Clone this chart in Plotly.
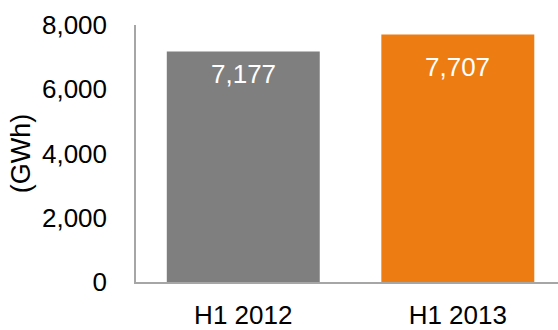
import plotly.graph_objects as go

categories = ["H1 2012", "H1 2013"]
generation_gwh = [7177, 7707]
bar_colors = ["#7F7F7F", "#ED7D13"]
label_offsets = [-23, -33]
tick_values = [0, 2000, 4000, 6000, 8000]
tick_labels = ["0", "2,000", "4,000", "6,000", "8,000"]

FONT = "Liberation Sans, Arial, sans-serif"

fig = go.Figure(
    go.Bar(
        x=categories,
        y=generation_gwh,
        marker=dict(color=bar_colors, line=dict(width=0)),
        width=0.713,
        hoverinfo="skip",
    )
)

for cat, val, off in zip(categories, generation_gwh, label_offsets):
    fig.add_annotation(
        x=cat, y=val, text=f"{val:,}", showarrow=False,
        yanchor="middle", yshift=off,
        font=dict(family=FONT, size=26, color="white"),
    )

fig.update_layout(
    width=558, height=330,
    margin=dict(l=136, r=0, t=25, b=42),
    paper_bgcolor="white", plot_bgcolor="white",
    showlegend=False,
    font=dict(family=FONT, size=26, color="#000000"),
    xaxis=dict(
        range=[-0.5, 1.467],
        showline=True, linecolor="#A6A6A6", linewidth=1.5,
        showgrid=False, zeroline=False, ticks="", ticklabelstandoff=9,
        tickfont=dict(family=FONT, size=26, color="#000000"),
    ),
    yaxis=dict(
        range=[0, 8000],
        tickvals=tick_values, ticktext=tick_labels,
        showline=True, linecolor="#A6A6A6", linewidth=1.5,
        showgrid=False, zeroline=False, ticks="", ticklabelstandoff=22,
        tickfont=dict(family=FONT, size=26, color="#000000"),
        title=dict(text="(GWh)", standoff=4,
                   font=dict(family=FONT, size=27, color="#000000")),
    ),
)

fig.write_html("out.html")
